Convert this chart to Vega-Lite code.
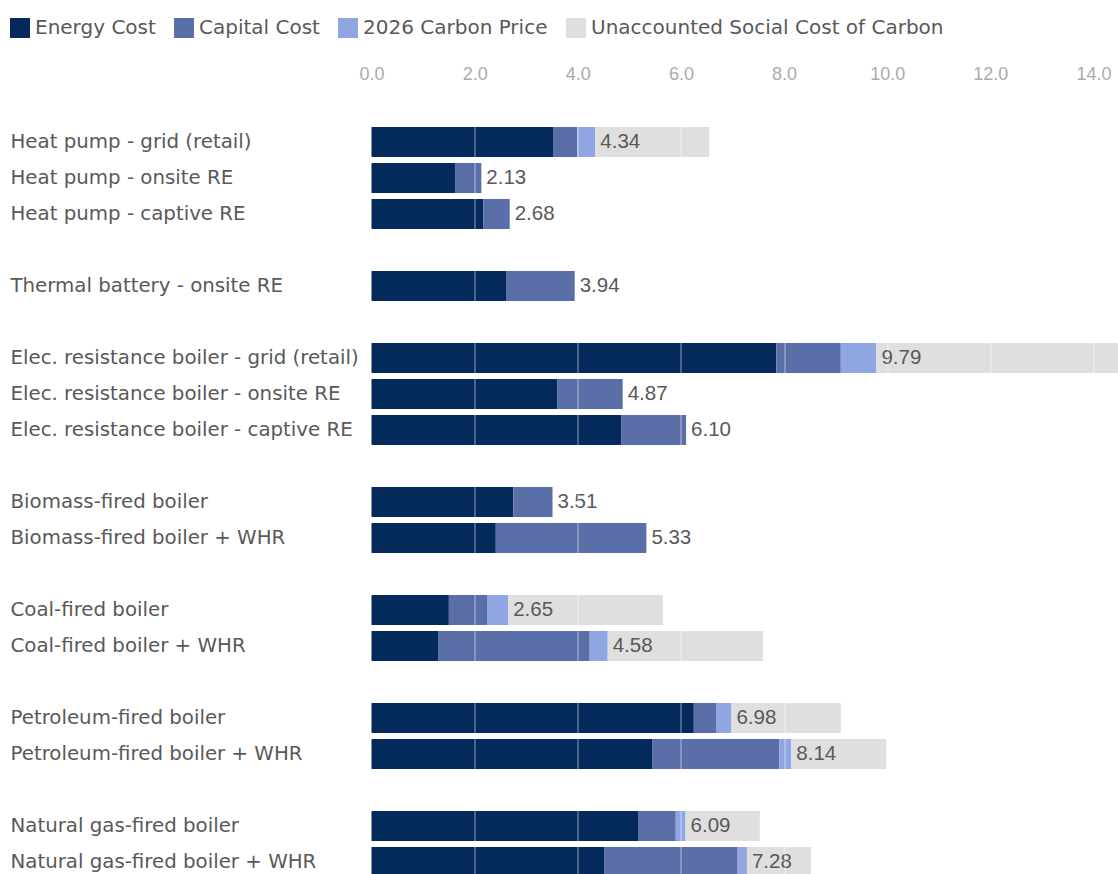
{
  "$schema": "https://vega.github.io/schema/vega-lite/v6.json",
  "autosize": {"type": "none"},
  "width": 722,
  "height": 750,
  "padding": {"left": 371.5, "top": 124, "right": 24.5, "bottom": 0},
  "background": "white",
  "config": {"view": {"stroke": null}},
  "datasets": {
    "costs": [
      {"technology": "Heat pump - grid (retail)", "component": "Energy Cost", "cost": 3.52},
      {"technology": "Heat pump - grid (retail)", "component": "Capital Cost", "cost": 0.47},
      {"technology": "Heat pump - grid (retail)", "component": "2026 Carbon Price", "cost": 0.35},
      {"technology": "Heat pump - grid (retail)", "component": "Unaccounted Social Cost of Carbon", "cost": 2.21},
      {"technology": "Heat pump - onsite RE", "component": "Energy Cost", "cost": 1.62},
      {"technology": "Heat pump - onsite RE", "component": "Capital Cost", "cost": 0.51},
      {"technology": "Heat pump - captive RE", "component": "Energy Cost", "cost": 2.17},
      {"technology": "Heat pump - captive RE", "component": "Capital Cost", "cost": 0.51},
      {"technology": "Thermal battery - onsite RE", "component": "Energy Cost", "cost": 2.62},
      {"technology": "Thermal battery - onsite RE", "component": "Capital Cost", "cost": 1.32},
      {"technology": "Elec. resistance boiler - grid (retail)", "component": "Energy Cost", "cost": 7.85},
      {"technology": "Elec. resistance boiler - grid (retail)", "component": "Capital Cost", "cost": 1.25},
      {"technology": "Elec. resistance boiler - grid (retail)", "component": "2026 Carbon Price", "cost": 0.69},
      {"technology": "Elec. resistance boiler - grid (retail)", "component": "Unaccounted Social Cost of Carbon", "cost": 5.2},
      {"technology": "Elec. resistance boiler - onsite RE", "component": "Energy Cost", "cost": 3.6},
      {"technology": "Elec. resistance boiler - onsite RE", "component": "Capital Cost", "cost": 1.27},
      {"technology": "Elec. resistance boiler - captive RE", "component": "Energy Cost", "cost": 4.84},
      {"technology": "Elec. resistance boiler - captive RE", "component": "Capital Cost", "cost": 1.26},
      {"technology": "Biomass-fired boiler", "component": "Energy Cost", "cost": 2.75},
      {"technology": "Biomass-fired boiler", "component": "Capital Cost", "cost": 0.76},
      {"technology": "Biomass-fired boiler + WHR", "component": "Energy Cost", "cost": 2.41},
      {"technology": "Biomass-fired boiler + WHR", "component": "Capital Cost", "cost": 2.92},
      {"technology": "Coal-fired boiler", "component": "Energy Cost", "cost": 1.5},
      {"technology": "Coal-fired boiler", "component": "Capital Cost", "cost": 0.74},
      {"technology": "Coal-fired boiler", "component": "2026 Carbon Price", "cost": 0.41},
      {"technology": "Coal-fired boiler", "component": "Unaccounted Social Cost of Carbon", "cost": 3.0},
      {"technology": "Coal-fired boiler + WHR", "component": "Energy Cost", "cost": 1.29},
      {"technology": "Coal-fired boiler + WHR", "component": "Capital Cost", "cost": 2.94},
      {"technology": "Coal-fired boiler + WHR", "component": "2026 Carbon Price", "cost": 0.35},
      {"technology": "Coal-fired boiler + WHR", "component": "Unaccounted Social Cost of Carbon", "cost": 3.01},
      {"technology": "Petroleum-fired boiler", "component": "Energy Cost", "cost": 6.25},
      {"technology": "Petroleum-fired boiler", "component": "Capital Cost", "cost": 0.43},
      {"technology": "Petroleum-fired boiler", "component": "2026 Carbon Price", "cost": 0.3},
      {"technology": "Petroleum-fired boiler", "component": "Unaccounted Social Cost of Carbon", "cost": 2.12},
      {"technology": "Petroleum-fired boiler + WHR", "component": "Energy Cost", "cost": 5.45},
      {"technology": "Petroleum-fired boiler + WHR", "component": "Capital Cost", "cost": 2.46},
      {"technology": "Petroleum-fired boiler + WHR", "component": "2026 Carbon Price", "cost": 0.23},
      {"technology": "Petroleum-fired boiler + WHR", "component": "Unaccounted Social Cost of Carbon", "cost": 1.84},
      {"technology": "Natural gas-fired boiler", "component": "Energy Cost", "cost": 5.18},
      {"technology": "Natural gas-fired boiler", "component": "Capital Cost", "cost": 0.72},
      {"technology": "Natural gas-fired boiler", "component": "2026 Carbon Price", "cost": 0.19},
      {"technology": "Natural gas-fired boiler", "component": "Unaccounted Social Cost of Carbon", "cost": 1.44},
      {"technology": "Natural gas-fired boiler + WHR", "component": "Energy Cost", "cost": 4.51},
      {"technology": "Natural gas-fired boiler + WHR", "component": "Capital Cost", "cost": 2.59},
      {"technology": "Natural gas-fired boiler + WHR", "component": "2026 Carbon Price", "cost": 0.18},
      {"technology": "Natural gas-fired boiler + WHR", "component": "Unaccounted Social Cost of Carbon", "cost": 1.24}
    ],
    "totals": [
      {"technology": "Heat pump - grid (retail)", "total": 4.34},
      {"technology": "Heat pump - onsite RE", "total": 2.13},
      {"technology": "Heat pump - captive RE", "total": 2.68},
      {"technology": "Thermal battery - onsite RE", "total": 3.94},
      {"technology": "Elec. resistance boiler - grid (retail)", "total": 9.79},
      {"technology": "Elec. resistance boiler - onsite RE", "total": 4.87},
      {"technology": "Elec. resistance boiler - captive RE", "total": 6.10},
      {"technology": "Biomass-fired boiler", "total": 3.51},
      {"technology": "Biomass-fired boiler + WHR", "total": 5.33},
      {"technology": "Coal-fired boiler", "total": 2.65},
      {"technology": "Coal-fired boiler + WHR", "total": 4.58},
      {"technology": "Petroleum-fired boiler", "total": 6.98},
      {"technology": "Petroleum-fired boiler + WHR", "total": 8.14},
      {"technology": "Natural gas-fired boiler", "total": 6.09},
      {"technology": "Natural gas-fired boiler + WHR", "total": 7.28}
    ]
  },
  "layer": [
    {
      "data": {"name": "costs"},
      "transform": [
        {"calculate": "indexof(['Energy Cost', 'Capital Cost', '2026 Carbon Price', 'Unaccounted Social Cost of Carbon'], datum.component)", "as": "stackRank"}
      ],
      "mark": {"type": "bar"},
      "encoding": {
        "y": {
          "field": "technology",
          "type": "nominal",
          "title": null,
          "scale": {
            "domain": [
              "Heat pump - grid (retail)", "Heat pump - onsite RE", "Heat pump - captive RE", " ",
              "Thermal battery - onsite RE", "  ",
              "Elec. resistance boiler - grid (retail)", "Elec. resistance boiler - onsite RE", "Elec. resistance boiler - captive RE", "   ",
              "Biomass-fired boiler", "Biomass-fired boiler + WHR", "    ",
              "Coal-fired boiler", "Coal-fired boiler + WHR", "     ",
              "Petroleum-fired boiler", "Petroleum-fired boiler + WHR", "      ",
              "Natural gas-fired boiler", "Natural gas-fired boiler + WHR"
            ],
            "range": [0, 756],
            "paddingInner": 0.1667,
            "paddingOuter": 0.0833
          },
          "axis": {
            "domain": false,
            "ticks": false,
            "tickSize": 0,
            "grid": false,
            "labelAlign": "left",
            "labelBaseline": "middle",
            "labelPadding": 361.5,
            "labelLimit": 400,
            "labelFont": "DejaVu Sans",
            "labelFontSize": 19.8,
            "labelColor": "#595959"
          }
        },
        "x": {
          "field": "cost",
          "type": "quantitative",
          "stack": "zero",
          "title": null,
          "scale": {"domain": [0, 14], "nice": false},
          "axis": {
            "orient": "top",
            "values": [0, 2, 4, 6, 8, 10, 12, 14],
            "format": ".1f",
            "domain": false,
            "ticks": false,
            "tickSize": 0,
            "grid": true,
            "gridColor": "#ffffff",
            "gridWidth": 1,
            "gridOpacity": {"condition": {"test": "datum.value === 0", "value": 0}, "value": 0.55},
            "zindex": 1,
            "labelFlush": false,
            "labelPadding": 41,
            "labelFont": "Liberation Sans",
            "labelFontSize": 18,
            "labelColor": "#ABABAB"
          }
        },
        "order": {"field": "stackRank", "type": "quantitative", "sort": "ascending"},
        "color": {
          "field": "component",
          "type": "nominal",
          "sort": ["Energy Cost", "Capital Cost", "2026 Carbon Price", "Unaccounted Social Cost of Carbon"],
          "scale": {
            "domain": ["Energy Cost", "Capital Cost", "2026 Carbon Price", "Unaccounted Social Cost of Carbon"],
            "range": ["#032A5B", "#5A6EA8", "#8FA6E2", "#DFDFDF"]
          },
          "legend": {
            "orient": "none",
            "legendX": -361.5,
            "legendY": -106,
            "direction": "horizontal",
            "title": null,
            "padding": 0,
            "symbolType": "square",
            "symbolSize": 400,
            "symbolStrokeWidth": 0,
            "symbolOpacity": 1,
            "labelFont": "DejaVu Sans",
            "labelFontSize": 20,
            "labelColor": "#595959",
            "labelOffset": 5,
            "labelLimit": 0,
            "columnPadding": 18
          }
        }
      }
    },
    {
      "data": {"name": "totals"},
      "mark": {"type": "text", "align": "left", "baseline": "middle", "dx": 5, "font": "Liberation Sans", "fontSize": 20.5, "color": "#595959"},
      "encoding": {
        "y": {"field": "technology", "type": "nominal"},
        "x": {"field": "total", "type": "quantitative"},
        "text": {"field": "total", "type": "quantitative", "format": ".2f"}
      }
    }
  ]
}
